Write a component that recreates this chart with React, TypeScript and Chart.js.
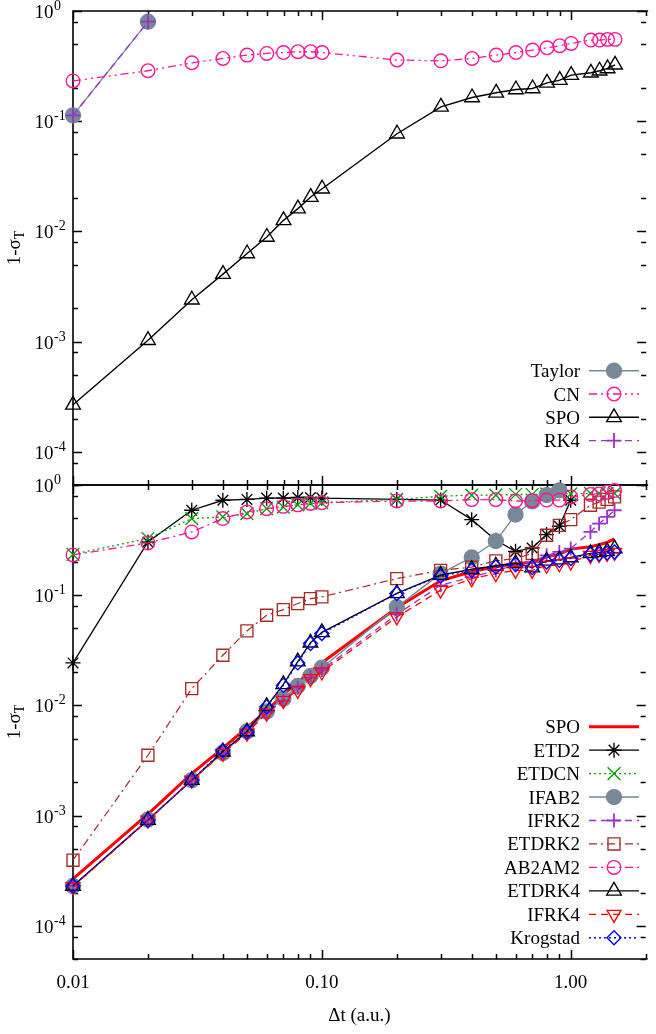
import React, { useEffect, useRef } from 'react';
import { Chart, registerables } from 'chart.js';
import { drawPoint } from 'chart.js/helpers';

Chart.register(...registerables);

// ---------------- data ----------------
const dtAll = [0.01, 0.02, 0.03, 0.04, 0.05, 0.06, 0.07, 0.08, 0.09, 0.1, 0.2, 0.3, 0.4, 0.5, 0.6, 0.7, 0.8, 0.9, 1.0, 1.2, 1.3, 1.4, 1.5];
const dtTo1 = [0.01, 0.02, 0.03, 0.04, 0.05, 0.06, 0.07, 0.08, 0.09, 0.1, 0.2, 0.3, 0.4, 0.5, 0.6, 0.7, 0.8, 0.9, 1.0];
const dtTo09 = [0.01, 0.02, 0.03, 0.04, 0.05, 0.06, 0.07, 0.08, 0.09, 0.1, 0.2, 0.3, 0.4, 0.5, 0.6, 0.7, 0.8, 0.9];
const dtTaylor = [0.01, 0.02];

// top panel
const taylorTop = [0.113, 0.8];
const rk4Top = [0.113, 0.8];
const cnTop = [0.232, 0.287, 0.339, 0.371, 0.398, 0.412, 0.42, 0.427, 0.427, 0.42, 0.359, 0.353, 0.371, 0.398, 0.42, 0.442, 0.464, 0.484, 0.508, 0.545, 0.545, 0.553, 0.553];
const spo = [2.67e-4, 1.03e-3, 2.4e-3, 4.1e-3, 6.3e-3, 8.9e-3, 1.26e-2, 1.61e-2, 2.05e-2, 2.44e-2, 0.077, 0.135, 0.164, 0.181, 0.194, 0.198, 0.223, 0.236, 0.262, 0.275, 0.287, 0.301, 0.325];

// bottom panel
const etd2 = [0.0243, 0.304, 0.59, 0.727, 0.74, 0.76, 0.76, 0.77, 0.77, 0.76, 0.74, 0.73, 0.485, 0.315, 0.25, 0.268, 0.355, 0.422, 0.727];
const etdcn = [0.235, 0.327, 0.496, 0.513, 0.55, 0.61, 0.63, 0.66, 0.68, 0.69, 0.74, 0.79, 0.81, 0.81, 0.82, 0.82, 0.83, 0.83, 0.83, 0.84, 0.84, 0.84, 0.84];
const ifab2 = [2.3e-4, 9.2e-4, 2.1e-3, 3.7e-3, 5.8e-3, 8.8e-3, 0.0115, 0.015, 0.0185, 0.022, 0.078, 0.157, 0.22, 0.31, 0.54, 0.71, 0.81, 0.895];
const ifrk2 = [2.3e-4, 9.1e-4, 2.1e-3, 3.7e-3, 5.7e-3, 8.6e-3, 0.011, 0.0145, 0.018, 0.021, 0.067, 0.123, 0.146, 0.168, 0.187, 0.2, 0.23, 0.247, 0.265, 0.375, 0.446, 0.513, 0.59];
const etdrk2 = [3.94e-4, 3.53e-3, 0.0142, 0.0285, 0.0474, 0.0658, 0.074, 0.084, 0.093, 0.0965, 0.1415, 0.168, 0.18, 0.205, 0.215, 0.239, 0.35, 0.43, 0.485, 0.655, 0.7, 0.74, 0.78];
const ab2am2 = [0.232, 0.298, 0.375, 0.496, 0.569, 0.61, 0.64, 0.66, 0.68, 0.69, 0.716, 0.716, 0.737, 0.737, 0.716, 0.72, 0.73, 0.73, 0.78, 0.82, 0.83, 0.86, 0.89];
const etdrk4 = [2.3e-4, 9.1e-4, 2.1e-3, 3.8e-3, 5.8e-3, 9.8e-3, 0.0155, 0.025, 0.037, 0.046, 0.104, 0.152, 0.172, 0.185, 0.195, 0.178, 0.205, 0.21, 0.22, 0.24, 0.245, 0.25, 0.265];
const ifrk4 = [2.26e-4, 9.1e-4, 2.1e-3, 3.66e-3, 5.6e-3, 8.5e-3, 0.0111, 0.0137, 0.0175, 0.0201, 0.0635, 0.111, 0.1415, 0.157, 0.168, 0.168, 0.187, 0.193, 0.2, 0.23, 0.235, 0.24, 0.245];
const krogstad = [2.3e-4, 9.1e-4, 2.1e-3, 3.9e-3, 5.75e-3, 9.7e-3, 0.0152, 0.0243, 0.0364, 0.0449, 0.1035, 0.149, 0.168, 0.18, 0.19, 0.178, 0.2, 0.207, 0.215, 0.235, 0.237, 0.242, 0.247];

// axes
const xMin = 0.01;
const xMax = 2;
const yMin = 5e-5;
const yMax = 1;
const xMajorTicks = [0.01, 0.1, 1];
const xTickLabels = ['0.01', '0.10', '1.00'];
const xMinorMultipliers = [2, 3, 4, 5, 6, 7, 8, 9];
const yMajorTicks = [1, 0.1, 0.01, 0.001, 0.0001, 0.00001];
const yTickExponents = ['0', '-1', '-2', '-3', '-4', '-5'];
const yMinorMultipliers = [2, 5, 8];

// ---------------- styles ----------------
const FONT = '"Liberation Serif", "Times New Roman", Times, serif';
const GRAY = '#778899';
const PINK = '#ff1493';
const PURPLE = '#9932cc';
const GREEN = '#00a000';
const BROWN = '#a52a2a';
const RED = '#ff0000';
const BLUE = '#0000ff';
const BLACK = '#000000';
const NONE = 'rgba(0,0,0,0)';

const W = 656;
const H = 1034;
const PLOT_LEFT = 73;
const TOP_Y0 = 11;
const MID_Y = 485;
const BOT_Y1 = 959;

type Series = {
  label: string;
  xs: number[];
  ys: number[];
  color: string;
  width: number;
  dash: number[];
  style: string | false;
  radius: number;
  fill: string;
  rot?: number;
  pbw?: number;
};

function toDataset(s: Series, i: number) {
  return {
    label: s.label,
    data: s.xs.map((x, k) => ({ x, y: s.ys[k] })),
    borderColor: s.color,
    backgroundColor: s.fill,
    borderWidth: s.width,
    borderDash: s.dash,
    pointStyle: s.style,
    pointRadius: s.radius,
    pointHoverRadius: s.radius,
    pointRotation: s.rot || 0,
    pointBorderColor: s.color,
    pointBackgroundColor: s.fill,
    pointBorderWidth: s.pbw ?? 1.35,
    fill: false,
    tension: 0,
    clip: false as const,
    order: -i,
  };
}

const topSeries: Series[] = [
  { label: 'Taylor', xs: dtTaylor, ys: taylorTop, color: GRAY, width: 1.4, dash: [], style: 'circle', radius: 7.5, fill: GRAY },
  { label: 'CN', xs: dtAll, ys: cnTop, color: PINK, width: 1.3, dash: [8, 4, 2, 4, 2, 4], style: 'circle', radius: 6.8, fill: NONE },
  { label: 'SPO', xs: dtAll, ys: spo, color: BLACK, width: 1.4, dash: [], style: 'triangle', radius: 8.5, fill: NONE },
  { label: 'RK4', xs: dtTaylor, ys: rk4Top, color: PURPLE, width: 1.3, dash: [7, 5], style: 'cross', radius: 7.5, fill: NONE, pbw: 1.8 },
];

const bottomSeries: Series[] = [
  { label: 'SPO', xs: dtAll, ys: spo, color: RED, width: 3, dash: [], style: false, radius: 0, fill: NONE },
  { label: 'ETD2', xs: dtTo1, ys: etd2, color: BLACK, width: 1.3, dash: [], style: 'star', radius: 7.5, fill: NONE },
  { label: 'ETDCN', xs: dtAll, ys: etdcn, color: GREEN, width: 1.3, dash: [2, 3], style: 'crossRot', radius: 9, fill: NONE },
  { label: 'IFAB2', xs: dtTo09, ys: ifab2, color: GRAY, width: 1.4, dash: [], style: 'circle', radius: 7.5, fill: GRAY },
  { label: 'IFRK2', xs: dtAll, ys: ifrk2, color: PURPLE, width: 1.3, dash: [7, 5], style: 'cross', radius: 7, fill: NONE, pbw: 1.8 },
  { label: 'ETDRK2', xs: dtAll, ys: etdrk2, color: BROWN, width: 1.2, dash: [8, 4, 2, 4], style: 'rect', radius: 8.5, fill: NONE },
  { label: 'AB2AM2', xs: dtAll, ys: ab2am2, color: PINK, width: 1.3, dash: [8, 4, 2, 4], style: 'circle', radius: 6.8, fill: NONE },
  { label: 'ETDRK4', xs: dtAll, ys: etdrk4, color: BLACK, width: 1.3, dash: [], style: 'triangle', radius: 8.5, fill: NONE },
  { label: 'IFRK4', xs: dtAll, ys: ifrk4, color: RED, width: 1.3, dash: [7, 5], style: 'triangle', radius: 8, fill: NONE, rot: 180 },
  { label: 'Krogstad', xs: dtAll, ys: krogstad, color: BLUE, width: 1.3, dash: [2, 3], style: 'rectRot', radius: 7, fill: NONE },
];

function drawYTitle(ctx: CanvasRenderingContext2D, cy: number) {
  ctx.save();
  ctx.translate(20, cy);
  ctx.rotate(-Math.PI / 2);
  ctx.fillStyle = '#000';
  ctx.textBaseline = 'alphabetic';
  ctx.textAlign = 'left';
  ctx.font = `19px ${FONT}`;
  const main = '1-\u03c3';
  const wMain = ctx.measureText(main).width;
  ctx.font = `14px ${FONT}`;
  const wSub = ctx.measureText('T').width;
  const x0 = -(wMain + wSub) / 2;
  ctx.font = `19px ${FONT}`;
  ctx.fillText(main, x0, 0);
  ctx.font = `14px ${FONT}`;
  ctx.fillText('T', x0 + wMain, 4);
  ctx.restore();
}

function makePanelPlugin(panel: 'top' | 'bottom', legendY0: number, legendStep: number) {
  return {
    id: 'gnuplotAxes_' + panel,
    beforeDatasetsDraw(chart: any) {
      const { ctx, chartArea: a, scales } = chart;
      const xs = scales.x;
      const ys = scales.y;
      ctx.save();
      ctx.strokeStyle = '#000';
      ctx.setLineDash([]);
      ctx.lineWidth = 1.6;
      ctx.beginPath();
      ctx.moveTo(a.right + 2, a.top);
      ctx.lineTo(a.left, a.top);
      ctx.lineTo(a.left, a.bottom);
      ctx.lineTo(a.right + 2, a.bottom);
      ctx.stroke();

      ctx.lineWidth = 1.5;
      ctx.beginPath();
      // x ticks
      for (const d of xMajorTicks) {
        const all = [1, ...xMinorMultipliers];
        for (const m of all) {
          const v = d * m;
          if (v < xMin - 1e-9 || v > xMax + 1e-9) continue;
          const px = Math.round(xs.getPixelForValue(v)) + 0.5;
          const len = m === 1 ? 9 : 5;
          ctx.moveTo(px, a.bottom);
          ctx.lineTo(px, a.bottom - len);
          ctx.moveTo(px, a.top);
          ctx.lineTo(px, a.top + len);
        }
      }
      // y ticks
      for (const d of yMajorTicks) {
        const all = [1, ...yMinorMultipliers];
        for (const m of all) {
          const v = d * m;
          if (v < yMin * 0.999 || v > yMax * 1.001) continue;
          const py = Math.round(ys.getPixelForValue(v)) + 0.5;
          const len = m === 1 ? 9 : 5;
          ctx.moveTo(a.left, py);
          ctx.lineTo(a.left + len, py);
          ctx.moveTo(a.right, py);
          ctx.lineTo(a.right - len, py);
        }
      }
      ctx.stroke();

      // y tick labels 10^n
      ctx.fillStyle = '#000';
      ctx.textBaseline = 'alphabetic';
      yMajorTicks.forEach((v, i) => {
        if (v < yMin * 0.999 || v > yMax * 1.001) return;
        const py = ys.getPixelForValue(v);
        ctx.font = `19px ${FONT}`;
        ctx.textAlign = 'right';
        ctx.fillText('10', 53.5, py + 7);
        ctx.font = `14px ${FONT}`;
        ctx.textAlign = 'left';
        ctx.fillText(yTickExponents[i], 54, py - 1);
      });

      drawYTitle(ctx, (a.top + a.bottom) / 2);

      if (panel === 'bottom') {
        ctx.font = `19px ${FONT}`;
        ctx.textAlign = 'center';
        xMajorTicks.forEach((v, i) => {
          const px = xs.getPixelForValue(v);
          ctx.fillText(xTickLabels[i], px, 988);
        });
        ctx.fillText('\u0394t (a.u.)', (a.left + a.right) / 2, 1021);
      }
      ctx.restore();
    },
    afterDraw(chart: any) {
      const { ctx } = chart;
      ctx.save();
      chart.data.datasets.forEach((ds: any, i: number) => {
        const y = legendY0 + i * legendStep;
        ctx.setLineDash([]);
        ctx.font = `19px ${FONT}`;
        ctx.fillStyle = '#000';
        ctx.textAlign = 'right';
        ctx.textBaseline = 'alphabetic';
        ctx.fillText(ds.label, 580, y + 6.5);
        ctx.strokeStyle = ds.borderColor;
        ctx.lineWidth = ds.borderWidth;
        ctx.setLineDash(ds.borderDash || []);
        ctx.beginPath();
        ctx.moveTo(589, y);
        ctx.lineTo(639, y);
        ctx.stroke();
        if (ds.pointRadius > 0 && ds.pointStyle) {
          ctx.setLineDash([]);
          ctx.fillStyle = ds.pointBackgroundColor;
          ctx.strokeStyle = ds.pointBorderColor;
          ctx.lineWidth = ds.pointBorderWidth;
          drawPoint(ctx, {
            pointStyle: ds.pointStyle,
            rotation: ds.pointRotation || 0,
            radius: ds.pointRadius,
            borderWidth: ds.pointBorderWidth,
          } as any, 614, y);
        }
      });
      ctx.restore();
    },
  };
}

function makeConfig(series: Series[], padding: any, plugin: any) {
  return {
    type: 'line' as const,
    data: { datasets: series.map(toDataset) },
    options: {
      responsive: false,
      animation: false as const,
      devicePixelRatio: 1,
      events: [] as any[],
      layout: { padding },
      scales: {
        x: { type: 'logarithmic' as const, min: xMin, max: xMax, display: false, bounds: 'data' as const },
        y: { type: 'logarithmic' as const, min: yMin, max: yMax, display: false, bounds: 'data' as const },
      },
      plugins: { legend: { display: false }, tooltip: { enabled: false } },
    },
    plugins: [plugin],
  };
}

export default function App() {
  const topRef = useRef<HTMLCanvasElement | null>(null);
  const botRef = useRef<HTMLCanvasElement | null>(null);

  useEffect(() => {
    document.body.style.margin = '0';
    const topChart = new Chart(
      topRef.current as HTMLCanvasElement,
      makeConfig(
        topSeries,
        { left: PLOT_LEFT, right: 0, top: TOP_Y0, bottom: H - MID_Y },
        makePanelPlugin('top', 370.7, 23.3)
      ) as any
    );
    const botChart = new Chart(
      botRef.current as HTMLCanvasElement,
      makeConfig(
        bottomSeries,
        { left: PLOT_LEFT, right: 0, top: MID_Y, bottom: H - BOT_Y1 },
        makePanelPlugin('bottom', 726.7, 23.45)
      ) as any
    );
    return () => {
      topChart.destroy();
      botChart.destroy();
    };
  }, []);

  return (
    <div style={{ position: 'fixed', left: 0, top: 0, width: W, height: H, background: '#fff', overflow: 'hidden' }}>
      <canvas ref={topRef} width={W} height={H} style={{ position: 'absolute', left: 0, top: 0 }} />
      <canvas ref={botRef} width={W} height={H} style={{ position: 'absolute', left: 0, top: 0 }} />
    </div>
  );
}
